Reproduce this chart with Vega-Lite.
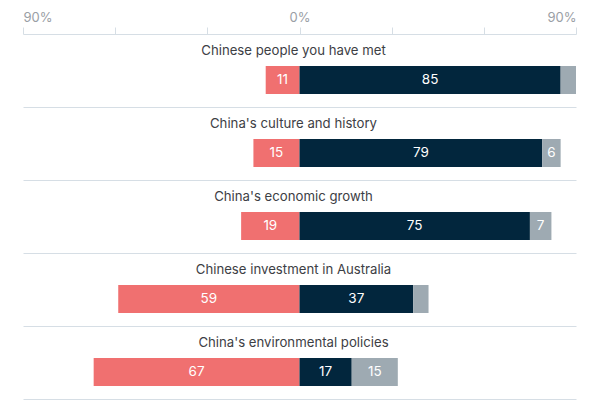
{
  "$schema": "https://vega.github.io/schema/vega-lite/v6.json",
  "width": 553,
  "height": 365,
  "autosize": {"type": "none"},
  "padding": {"left": 23, "top": 34, "right": 24, "bottom": 1},
  "background": "white",
  "config": {"view": {"stroke": null}, "font": "Inter"},
  "data": {
    "values": [
      {"category": "Chinese people you have met", "type": "Negative", "value": 11},
      {"category": "Chinese people you have met", "type": "Positive", "value": 85},
      {"category": "Chinese people you have met", "type": "Don't know", "value": 5},
      {"category": "China's culture and history", "type": "Negative", "value": 15},
      {"category": "China's culture and history", "type": "Positive", "value": 79},
      {"category": "China's culture and history", "type": "Don't know", "value": 6},
      {"category": "China's economic growth", "type": "Negative", "value": 19},
      {"category": "China's economic growth", "type": "Positive", "value": 75},
      {"category": "China's economic growth", "type": "Don't know", "value": 7},
      {"category": "Chinese investment in Australia", "type": "Negative", "value": 59},
      {"category": "Chinese investment in Australia", "type": "Positive", "value": 37},
      {"category": "Chinese investment in Australia", "type": "Don't know", "value": 5},
      {"category": "China's environmental policies", "type": "Negative", "value": 67},
      {"category": "China's environmental policies", "type": "Positive", "value": 17},
      {"category": "China's environmental policies", "type": "Don't know", "value": 15}
    ]
  },
  "transform": [
    {"calculate": "datum.type == 'Negative' ? -datum.value : datum.value", "as": "signed"},
    {"stack": "signed", "groupby": ["category"], "sort": [{"field": "type", "order": "descending"}], "as": ["x0", "x1"], "offset": "zero"},
    {"calculate": "(datum.x0 + datum.x1) / 2", "as": "mid"}
  ],
  "encoding": {
    "y": {
      "field": "category",
      "type": "nominal",
      "sort": null,
      "scale": {"paddingInner": 0, "paddingOuter": 0},
      "axis": {"title": null, "labels": false, "ticks": false, "domain": false, "grid": true, "bandPosition": 1, "gridColor": "#d6dee5", "gridWidth": 1}
    }
  },
  "layer": [
    {
      "mark": {"type": "bar", "height": 28, "yOffset": 9.5},
      "encoding": {
        "x": {
          "field": "x0",
          "type": "quantitative",
          "scale": {"domain": [-90, 90], "nice": false},
          "axis": {
            "orient": "top",
            "title": null,
            "grid": false,
            "values": [-90, -60, -30, 0, 30, 60, 90],
            "labelExpr": "datum.value % 90 == 0 ? abs(datum.value) + '%' : ''",
            "labelFlush": true,
            "labelFontSize": 13,
            "labelColor": "#9a9ea5",
            "labelPadding": 3,
            "tickSize": 7,
            "tickColor": "#d6dee5",
            "domainColor": "#d6dee5"
          }
        },
        "x2": {"field": "x1"},
        "color": {
          "field": "type",
          "type": "nominal",
          "scale": {"domain": ["Negative", "Positive", "Don't know"], "range": ["#f07070", "#02263d", "#9eaab2"]},
          "legend": null
        }
      }
    },
    {
      "transform": [{"filter": "datum.value > 5"}],
      "mark": {"type": "text", "color": "white", "fontSize": 13.5, "dy": 9.5, "baseline": "middle", "align": "center"},
      "encoding": {
        "x": {"field": "mid", "type": "quantitative"},
        "text": {"field": "value", "type": "quantitative"}
      }
    },
    {
      "transform": [{"filter": "datum.type == 'Positive'"}],
      "mark": {"type": "text", "color": "#3d4045", "fontSize": 13.2, "dy": -19.5, "dx": -6, "baseline": "middle", "align": "center"},
      "encoding": {
        "x": {"datum": 0},
        "text": {"field": "category", "type": "nominal"}
      }
    }
  ]
}
